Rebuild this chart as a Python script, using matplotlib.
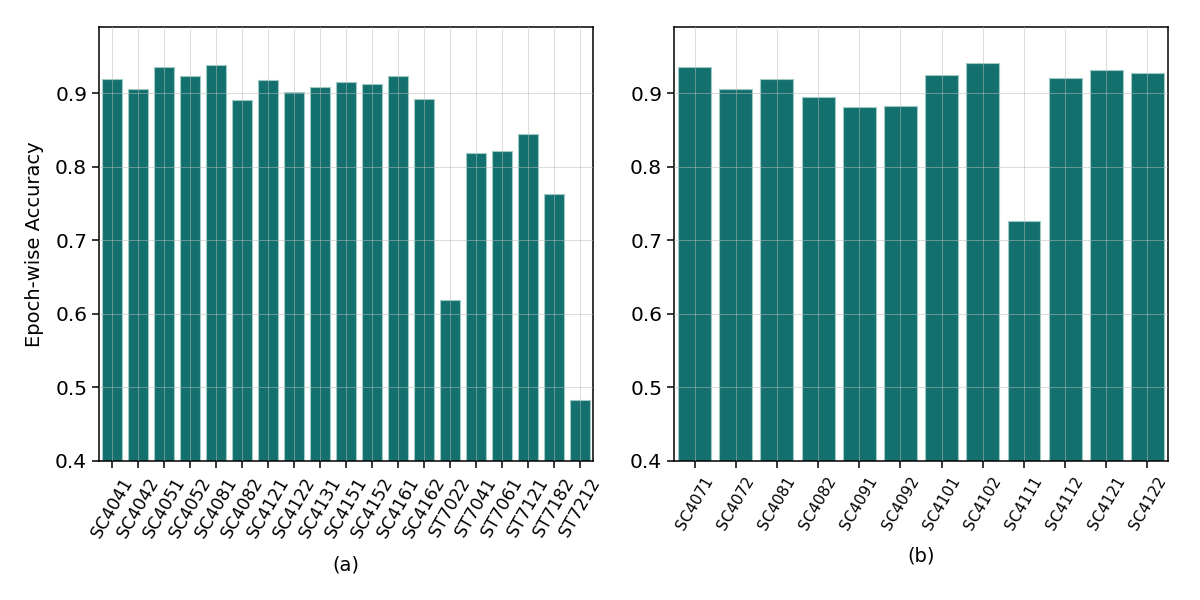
import matplotlib
matplotlib.use("Agg")
import matplotlib.pyplot as plt
import numpy as np

# Dados
sujeitos_a = ["SC4041", "SC4042", "SC4051", "SC4052", "SC4081", "SC4082", "SC4121",
              "SC4122", "SC4131", "SC4151", "SC4152", "SC4161", "SC4162", "ST7022",
              "ST7041", "ST7061", "ST7121", "ST7182", "ST7212"]
acc_a = [0.919, 0.905, 0.935, 0.924, 0.938, 0.891, 0.918, 0.901, 0.909, 0.915,
         0.912, 0.923, 0.892, 0.619, 0.819, 0.822, 0.844, 0.763, 0.483]

sujeitos_b = ["SC4071", "SC4072", "SC4081", "SC4082", "SC4091", "SC4092", "SC4101",
              "SC4102", "SC4111", "SC4112", "SC4121", "SC4122"]
acc_b = [0.936, 0.906, 0.919, 0.895, 0.881, 0.883, 0.925, 0.941, 0.726, 0.920,
         0.931, 0.927]

cor = "#13706e"
tam_font = 14

fig = plt.figure(figsize=(12, 6), dpi=100)
ax1 = fig.add_axes([0.0825, 0.232, 0.4117, 0.723])
ax2 = fig.add_axes([0.5617, 0.232, 0.4117, 0.723])


def desenha(ax, nomes, valores, tam_tick):
    x = np.arange(len(nomes))
    ax.bar(x, valores, width=0.8, color=cor, edgecolor="#9fc9c5", linewidth=0.8, zorder=1)
    ax.set_xlim(-0.5, len(nomes) - 0.5)
    ax.set_ylim(0.4, 0.99)
    ax.set_xticks(x)
    ax.set_xticklabels(nomes, rotation=60, ha="center", fontsize=tam_tick)
    ax.set_yticks([0.4, 0.5, 0.6, 0.7, 0.8, 0.9])
    ax.tick_params(axis="y", labelsize=14.5)
    ax.tick_params(axis="both", length=5, width=1.1)
    ax.tick_params(axis="x", pad=4.5)
    ax.grid(True, color="#bbbbbb", linewidth=0.6, alpha=0.6, zorder=3)
    ax.set_axisbelow(False)
    for s in ax.spines.values():
        s.set_linewidth(1.1)


desenha(ax1, sujeitos_a, acc_a, 12.5)
desenha(ax2, sujeitos_b, acc_b, 11)

ax1.set_ylabel("Epoch-wise Accuracy", fontsize=tam_font, labelpad=8)
ax1.set_xlabel("(a)", fontsize=tam_font, labelpad=10)
ax2.set_xlabel("(b)", fontsize=tam_font, labelpad=10)

plt.savefig("out.png", dpi=100)
